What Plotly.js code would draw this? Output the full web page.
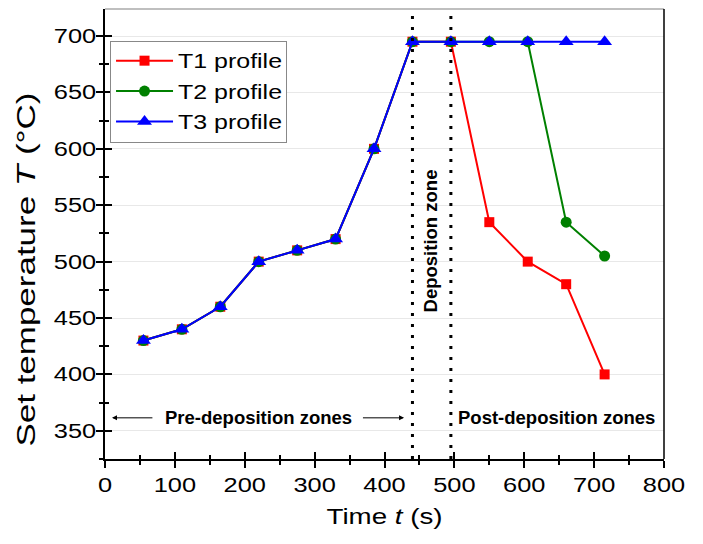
<!DOCTYPE html>
<html><head><meta charset="utf-8">
<script src="https://cdn.plot.ly/plotly-3.0.1.min.js"></script>
<style>body{margin:0;background:#fff}#c{width:703px;height:544px}</style>
</head><body><div id="c"></div>
<script>
const time = [55,110,165,220,275,330,385,440,495,550,605,660,715];
const t1 = [430,440,460,500,510,520,600,695,695,535,500,480,400];
const t2 = [430,440,460,500,510,520,600,695,695,695,695,535,505];
const t3 = [430,440,460,500,510,520,600,695,695,695,695,695,695];
const zoneEdges = [440,495];
const xRange = [0,800], yRange = [325,724];

const F = 'Liberation Sans, Arial, sans-serif';
function tr(y, name, color, symbol, size){
  return {x: time, y: y, name: name, legendgroup: name, type:'scatter', mode:'lines+markers',
    line:{color:color, width:2}, marker:{color:color, symbol:symbol, size:size}};
}
const data = [
  tr(t1,'T1 profile','#ff0000','square',10),
  tr(t2,'T2 profile','#008000','circle',11),
  tr(t3,'T3 profile','#0000ff','triangle-up',13),
  {x:[0],y:[400],xaxis:'x2',yaxis:'y2',mode:'markers',marker:{opacity:0},showlegend:false,hoverinfo:'skip'}
];
const shapes = zoneEdges.map(v=>({type:'line',xref:'x',yref:'paper',x0:v,x1:v,y0:0,y1:1,
  line:{color:'#000',width:3,dash:'3px,8px'}}));
shapes.push({type:'line',xref:'paper',yref:'paper',x0:0,x1:1,y0:1,y1:1,line:{color:'#aaa',width:1.5}});
shapes.push({type:'line',xref:'paper',yref:'paper',x0:1,x1:1,y0:0,y1:1,line:{color:'#000',width:1.5}});
const layout = {
  width:703, height:544, margin:{l:105,r:39,t:9,b:85},
  paper_bgcolor:'#fff', plot_bgcolor:'#fff', showlegend:true,
  font:{family:F, color:'#000'},
  xaxis:{range:xRange, dtick:100, tick0:0, showgrid:false, zeroline:false, showline:true, linecolor:'#000', linewidth:1.5,
    ticks:'outside', ticklen:7, tickwidth:1.5, tickcolor:'#000', tickfont:{size:20, family:F},
    minor:{dtick:50, ticks:'outside', ticklen:4, tickwidth:1.5, tickcolor:'#000', showgrid:false},
    title:{text:'Time <i>t</i> (s)', font:{size:22, family:F}, standoff:14}},
  yaxis:{range:yRange, dtick:50, tick0:350, showgrid:true, gridcolor:'#e8e8e8', gridwidth:1, zeroline:false, showline:true, linecolor:'#000', linewidth:1.5,
    ticks:'outside', ticklen:7, tickwidth:1.5, tickcolor:'#000', tickfont:{size:20, family:F},
    minor:{dtick:25, ticks:'outside', ticklen:4, tickwidth:1.5, tickcolor:'#000', showgrid:false}},
  xaxis2:{range:xRange, overlaying:'x', dtick:100, tick0:0, showgrid:false, zeroline:false, showticklabels:false,
    ticks:'inside', ticklen:7, tickwidth:1.5, tickcolor:'#000',
    minor:{dtick:50, ticks:'inside', ticklen:4, tickwidth:1.5, tickcolor:'#000'}},
  yaxis2:{range:yRange, overlaying:'y', dtick:50, tick0:350, showgrid:false, zeroline:false, showticklabels:false,
    ticks:'inside', ticklen:7, tickwidth:1.5, tickcolor:'#000',
    minor:{dtick:25, ticks:'inside', ticklen:4, tickwidth:1.5, tickcolor:'#000'}},
  legend:{x:0.009, y:0.93, xanchor:'left', yanchor:'top', bgcolor:'#fff', bordercolor:'#888', borderwidth:1,
    font:{size:19.5, family:F}, tracegroupgap:2, itemwidth:57},
  shapes: shapes,
  annotations:[
    {x:-0.141, y:0.42, xref:'paper', yref:'paper', xanchor:'center', yanchor:'middle', text:'Set temperature <i>T</i> (°C)', showarrow:false, textangle:-90, font:{size:26, family:F}},
    {x:357, y:361.5, xref:'x', yref:'y', text:'<b>Pre-deposition zones</b>', showarrow:false, xanchor:'right', font:{size:18.5, family:F}},
    {x:10, y:361.5, ax:70, ay:361.5, xref:'x', yref:'y', axref:'x', ayref:'y', showarrow:true, arrowhead:2, arrowsize:1, arrowwidth:1, arrowcolor:'#000', text:''},
    {x:428, y:361.5, ax:367, ay:361.5, xref:'x', yref:'y', axref:'x', ayref:'y', showarrow:true, arrowhead:2, arrowsize:1, arrowwidth:1, arrowcolor:'#000', text:''},
    {x:503, y:361.5, xref:'x', yref:'y', text:'<b>Post-deposition zones</b>', showarrow:false, xanchor:'left', font:{size:18.5, family:F}},
    {x:466.4, y:518.7, xref:'x', yref:'y', text:'<b>Deposition zone</b>', showarrow:false, textangle:-90, font:{size:18.5, family:F}}
  ]
};
function stretch(el, target){
  const L = el.getComputedTextLength();
  el.setAttribute('textLength', target === undefined ? L : target);
  el.setAttribute('lengthAdjust','spacingAndGlyphs');
}
Plotly.newPlot('c', data, layout, {displayModeBar:false}).then(gd=>{
  gd.querySelectorAll('.xtick text, .ytick text').forEach(t=>stretch(t, t.getComputedTextLength()*1.27));
  gd.querySelectorAll('.ytick text').forEach(t=>t.setAttribute('dx', 4));
  gd.querySelectorAll('.legendtext').forEach(t=>stretch(t, 104));
  gd.querySelectorAll('.legend [clip-path]').forEach(e=>e.removeAttribute('clip-path'));
  gd.querySelectorAll('.legend rect.bg').forEach(r=>{ r.setAttribute('width', 176); });
  gd.querySelectorAll('.g-xtitle text').forEach(t=>stretch(t, 116));
  gd.querySelectorAll('.annotation-text').forEach(t=>{
    if (t.textContent.indexOf('Set temperature') === 0) stretch(t, 354);
  });
});
</script></body></html>
